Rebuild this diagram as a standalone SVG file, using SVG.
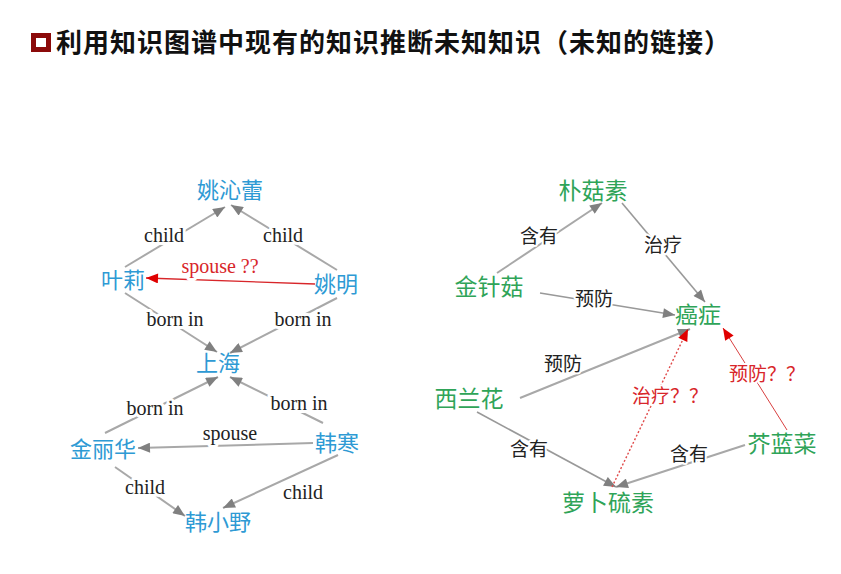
<svg xmlns="http://www.w3.org/2000/svg" width="841" height="574" viewBox="0 0 841 574">
<defs>
<style>
.title{font-family:"Noto Sans CJK SC","Noto Sans",sans-serif;font-weight:bold;font-size:26px;letter-spacing:1px;fill:#111}
.nb{font-family:"Noto Sans CJK SC",sans-serif;font-size:22px;fill:#2e9ad4;text-anchor:middle}
.ng{font-family:"Noto Sans CJK SC",sans-serif;font-size:23px;fill:#2fa458;text-anchor:middle}
.le{font-family:"Liberation Serif",serif;font-size:20px;fill:#222;text-anchor:middle;stroke:#fff;stroke-width:6;paint-order:stroke;stroke-linejoin:round}
.lc{font-family:"Noto Sans CJK SC",sans-serif;font-size:19px;fill:#222;text-anchor:middle;stroke:#fff;stroke-width:4;paint-order:stroke;stroke-linejoin:round}
.red{fill:#d8262a}
.eg{stroke:#a8a8a8;stroke-width:2;fill:none;marker-end:url(#ag)}
.eg2{stroke:#999;stroke-width:1.6;fill:none;marker-end:url(#ag)}
.er{stroke:#d8262a;stroke-width:1.4;fill:none;marker-end:url(#ar)}
.er2{stroke:#d84040;stroke-width:1;fill:none;marker-end:url(#ar)}
.ed{stroke:#e04a4a;stroke-width:1.4;stroke-dasharray:2 2;fill:none;marker-end:url(#ar)}
</style>
<marker id="ag" viewBox="0 0 12 10" refX="12" refY="5" markerWidth="13" markerHeight="10" markerUnits="userSpaceOnUse" orient="auto"><path d="M0,0 L12,5 L0,10 z" fill="#808080"/></marker>
<marker id="ar" viewBox="0 0 12 10" refX="12" refY="5" markerWidth="13" markerHeight="10" markerUnits="userSpaceOnUse" orient="auto"><path d="M0,0 L12,5 L0,10 z" fill="#e00000"/></marker>
</defs>
<rect width="841" height="574" fill="#fff"/>
<g id="title">
<rect x="33.5" y="35.5" width="15" height="14" fill="#fff" stroke="#8b0a0a" stroke-width="5"/>
<text class="title" x="56" y="52">利用知识图谱中现有的知识推断未知知识（未知的链接）</text>
</g>
<g id="connectors">
<line class="eg" x1="125" y1="267" x2="225" y2="207"/>
<line class="eg" x1="337" y1="270" x2="231" y2="205"/>
<line class="er" x1="315" y1="284" x2="146" y2="278"/>
<line class="eg" x1="125" y1="293" x2="217" y2="352"/>
<line class="eg" x1="337" y1="298" x2="230" y2="353"/>
<line class="eg" x1="105" y1="433" x2="218" y2="377"/>
<line class="eg" x1="323" y1="423" x2="230" y2="377"/>
<line class="eg" x1="313" y1="443" x2="138" y2="448"/>
<line class="eg" x1="115" y1="467" x2="185" y2="516"/>
<line class="eg" x1="338" y1="455" x2="223" y2="508"/>
<line class="eg" x1="497" y1="273" x2="602" y2="203"/>
<line class="eg2" x1="622" y1="203" x2="705" y2="302"/>
<line class="eg2" x1="540" y1="293" x2="675" y2="315"/>
<line class="eg" x1="520" y1="398" x2="690" y2="329"/>
<line class="eg2" x1="477" y1="412" x2="616" y2="487"/>
<line class="eg" x1="745" y1="445" x2="616" y2="487"/>
<line class="ed" x1="612" y1="487" x2="688" y2="329"/>
<line class="er2" x1="787" y1="430" x2="723" y2="328"/>
</g>
<g id="edge-labels">
<text class="le" x="164" y="242">child</text>
<text class="le" x="283" y="242">child</text>
<text class="le red" x="220" y="273">spouse ??</text>
<text class="le" x="175" y="326">born in</text>
<text class="le" x="303" y="326">born in</text>
<text class="le" x="155" y="415">born in</text>
<text class="le" x="299" y="410">born in</text>
<text class="le" x="230" y="440">spouse</text>
<text class="le" x="145" y="494">child</text>
<text class="le" x="303" y="499">child</text>
<text class="lc" x="539" y="243">含有</text>
<text class="lc" x="663" y="252">治疗</text>
<text class="lc" x="594" y="306">预防</text>
<text class="lc" x="563" y="371">预防</text>
<text class="lc" x="529" y="456">含有</text>
<text class="lc" x="689" y="461">含有</text>
<text class="lc red" x="670" y="403">治疗？？</text>
<text class="lc red" x="767" y="381">预防？？</text>
</g>
<g id="n-yaoqinlei"><text class="nb" x="230" y="198">姚沁蕾</text></g>
<g id="n-yeli"><text class="nb" x="123" y="288">叶莉</text></g>
<g id="n-yaoming"><text class="nb" x="336" y="292">姚明</text></g>
<g id="n-shanghai"><text class="nb" x="218" y="371">上海</text></g>
<g id="n-jinlihua"><text class="nb" x="103" y="457">金丽华</text></g>
<g id="n-hanhan"><text class="nb" x="337" y="451">韩寒</text></g>
<g id="n-hanxiaoye"><text class="nb" x="218" y="530">韩小野</text></g>
<g id="n-pugusu"><text class="ng" x="593" y="199">朴菇素</text></g>
<g id="n-jinzhengu"><text class="ng" x="489" y="295">金针菇</text></g>
<g id="n-aizheng"><text class="ng" x="698" y="323">癌症</text></g>
<g id="n-xilanhua"><text class="ng" x="469" y="407">西兰花</text></g>
<g id="n-jielancai"><text class="ng" x="782" y="452">芥蓝菜</text></g>
<g id="n-luobuliusu"><text class="ng" x="608" y="511">萝卜硫素</text></g>
</svg>
